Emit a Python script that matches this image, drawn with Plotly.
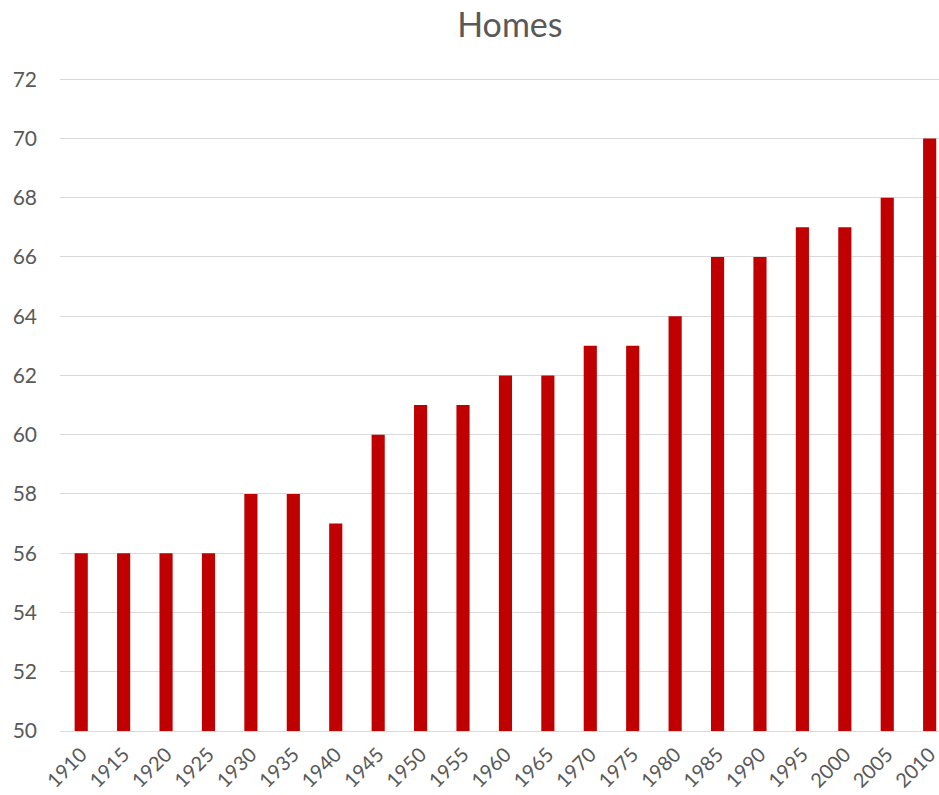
import plotly.graph_objects as go

years = ["1910", "1915", "1920", "1925", "1930", "1935", "1940", "1945", "1950", "1955",
         "1960", "1965", "1970", "1975", "1980", "1985", "1990", "1995", "2000", "2005", "2010"]
homes = [56, 56, 56, 56, 58, 58, 57, 60, 61, 61, 62, 62, 63, 63, 64, 66, 66, 67, 67, 68, 70]
y_ticks = [50, 52, 54, 56, 58, 60, 62, 64, 66, 68, 70, 72]

fig = go.Figure(go.Bar(x=years, y=homes, marker=dict(color="#c00000", line=dict(width=0))))

fig.update_layout(
    width=939, height=795,
    paper_bgcolor="white", plot_bgcolor="white",
    margin=dict(l=60, r=0, t=78, b=64),
    bargap=0.69,
    font=dict(family="Lato, Open Sans, sans-serif", color="#595959", size=21),
    title=dict(text="Homes", x=0.543, xanchor="center", y=0.968, yanchor="middle",
               font=dict(size=34, color="#595959")),
    showlegend=False,
)
fig.update_xaxes(type="category", range=[-0.5, 20.22], tickangle=-45, showgrid=False,
                 showline=True, linecolor="#d9d9d9", linewidth=1, ticks="",
                 ticklabelstandoff=3,
                 automargin=False, tickfont=dict(size=20, color="#595959"))
fig.update_yaxes(range=[50, 72.04], tickvals=y_ticks, showgrid=True, gridcolor="#d9d9d9",
                 gridwidth=1, zeroline=False, ticks="", ticklabelstandoff=22,
                 automargin=False, tickfont=dict(size=21, color="#595959"))

fig.write_html("out.html", config={"displayModeBar": False},
               post_script="document.body.style.margin='0';document.body.style.overflow='hidden';")
